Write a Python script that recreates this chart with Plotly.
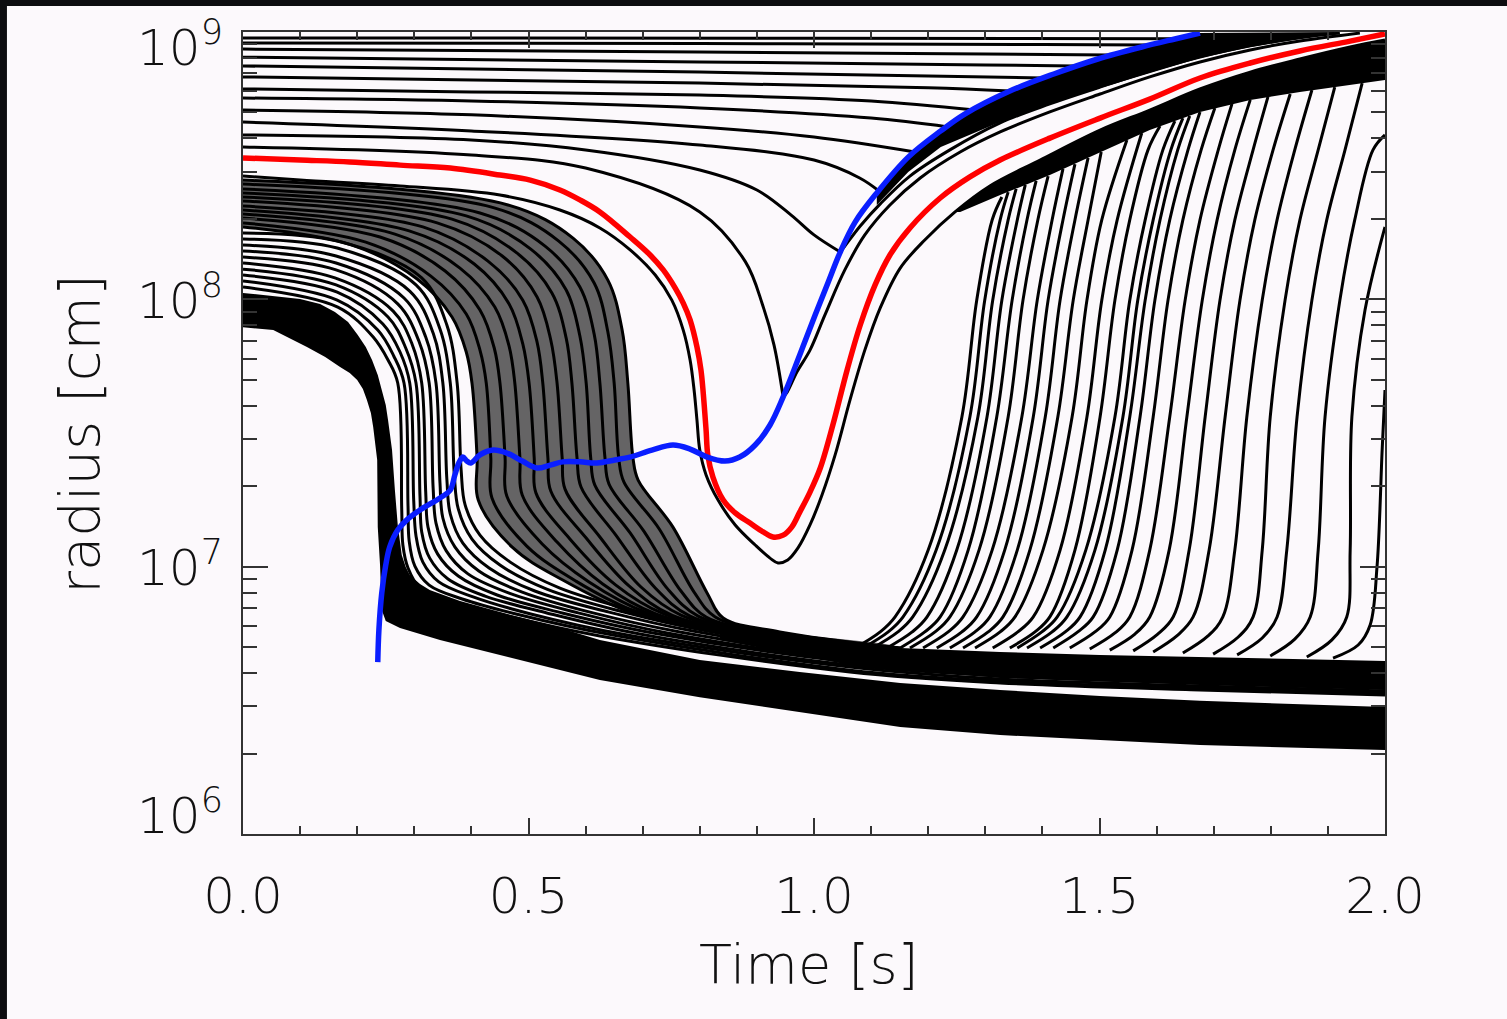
import numpy as np
import plotly.graph_objects as go

# ------------------------------------------------------------------
# Values: time [s], log10(radius / cm)
# ------------------------------------------------------------------
BLUE_T = [0.236,0.238,0.243,0.250,0.257,0.271,0.287,0.310,0.345,0.363,0.371,0.378,0.385,0.392,0.399,0.415,0.438,0.462,0.489,0.515,
          0.538,0.560,0.590,0.620,0.651,0.678,0.716,0.753,0.783,0.813,0.844,0.870,0.897,0.923,0.946,0.975,1.002,1.025,1.046,1.072,
          1.110,1.165,1.222,1.264,1.343,1.420,1.497,1.574,1.632,1.676]
BLUE_LOGR = [6.643,6.763,6.901,7.006,7.074,7.137,7.175,7.212,7.257,7.287,7.343,7.388,7.410,7.395,7.388,7.418,7.436,7.425,7.395,7.369,
             7.380,7.392,7.392,7.388,7.399,7.410,7.436,7.455,7.440,7.410,7.395,7.410,7.455,7.530,7.635,7.792,7.941,8.065,8.177,8.289,
             8.398,8.532,8.630,8.693,8.779,8.843,8.899,8.944,8.974,8.996]

RED_T = [0,0.100,0.187,0.275,0.363,0.450,0.503,0.555,0.590,0.625,0.678,0.713,0.736,0.757,0.771,0.783,0.795,0.802,0.806,0.811,
         0.814,0.823,0.841,0.862,0.888,0.911,0.928,0.946,0.961,0.975,0.993,1.011,1.033,1.058,1.081,1.107,1.133,1.168,1.221,1.273,
         1.326,1.413,1.501,1.588,1.676,1.764,1.851,1.939,2.0]
RED_LOGR = [8.529,8.521,8.514,8.502,8.491,8.465,8.446,8.409,8.372,8.327,8.233,8.166,8.110,8.042,7.986,7.923,7.822,7.736,7.650,7.511,
            7.418,7.335,7.249,7.201,7.163,7.130,7.111,7.118,7.148,7.204,7.279,7.369,7.530,7.736,7.904,8.054,8.166,8.267,8.379,8.458,
            8.521,8.603,8.678,8.749,8.828,8.884,8.929,8.966,8.993]

# black shell running next to the red one
COMP_T = [0,0.100,0.275,0.450,0.555,0.625,0.678,0.722,0.751,0.771,0.783,0.790,0.795,0.800,0.811,0.832,0.862,0.897,0.923,0.937,
          0.954,0.972,0.993,1.014,1.037,1.063,1.089,1.116,1.151,1.194,1.247,1.308,1.396,1.501,1.588,1.676,1.764,1.851,1.939,2.0]
COMP_LOGR = [8.461,8.446,8.424,8.390,8.334,8.267,8.185,8.091,7.997,7.885,7.773,7.661,7.549,7.436,7.343,7.249,7.156,7.081,7.032,7.014,
             7.025,7.070,7.156,7.268,7.418,7.623,7.810,7.968,8.117,8.222,8.327,8.424,8.521,8.633,8.708,8.787,8.850,8.899,8.944,8.970]

# outer shells before they meet the shock
OUTER_T = [[0,0.4,0.6,0.8,0.88,0.91,0.93,0.946],
           [0,0.4,0.6,0.8,0.9,0.96,1.0,1.046],
           [0,0.4,0.8,1.0,1.08,1.114],
           [0,0.4,0.8,1.0,1.177],
           [0,0.4,0.8,1.1,1.235],
           [0,0.4,0.8,1.1,1.282],
           [0,0.8,1.2,1.343],
           [0,0.8,1.2,1.401],
           [0,0.8,1.3,1.457],
           [0,0.8,1.3,1.518],
           [0,0.8,1.4,1.588],
           [0,1.0,1.641]]
OUTER_LOGR = [[8.570,8.540,8.491,8.327,8.140,7.979,7.829,7.635],
              [8.615,8.596,8.559,8.484,8.409,8.315,8.241,8.177],
              [8.663,8.630,8.577,8.521,8.454,8.405],
              [8.708,8.690,8.645,8.607,8.551],
              [8.753,8.742,8.716,8.678,8.645],
              [8.787,8.776,8.764,8.742,8.708],
              [8.832,8.809,8.791,8.779],
              [8.873,8.850,8.835,8.828],
              [8.906,8.888,8.877,8.873],
              [8.936,8.925,8.918,8.914],
              [8.959,8.957,8.953,8.951],
              [8.978,8.977,8.975]]

# the two lowest outer shells after the shock passes
POST1_T = [0.946,0.953,0.970,0.993,1.019,1.054,1.089,1.133,1.186,1.256,1.326,1.413,1.501,1.588,1.676,1.764,1.851,1.956]
POST1_LOGR = [7.635,7.653,7.728,7.810,7.941,8.110,8.241,8.353,8.454,8.551,8.626,8.701,8.768,8.832,8.888,8.933,8.966,8.996]
POST2_T = [1.046,1.054,1.081,1.116,1.168,1.238,1.326,1.413,1.501,1.588,1.676,1.764,1.851,1.921]
POST2_LOGR = [8.177,8.199,8.274,8.357,8.461,8.559,8.660,8.731,8.794,8.854,8.906,8.948,8.978,8.996]
# lower edge of the dense post-shock band hugging the shock
POSTBAND_T = [1.110,1.165,1.222,1.326,1.420,1.501,1.588,1.676,1.764,1.851,1.921]
POSTBAND_LOGR = [8.353,8.476,8.570,8.663,8.738,8.791,8.847,8.903,8.944,8.974,9.0]

# collapsing shells, outer dense group
C3_T = [[0,0.464,0.578,0.639,0.664,0.674,0.683,0.692,0.753,0.813,0.841,0.940,1.151],
        [0,0.440,0.553,0.615,0.639,0.650,0.658,0.667,0.729,0.790,0.827,0.932,1.151],
        [0,0.415,0.529,0.590,0.615,0.625,0.634,0.641,0.702,0.767,0.811,0.921,1.151],
        [0,0.391,0.504,0.566,0.590,0.601,0.609,0.616,0.678,0.744,0.797,0.912,1.151],
        [0,0.366,0.480,0.541,0.566,0.576,0.585,0.592,0.653,0.722,0.783,0.904,1.151],
        [0,0.340,0.454,0.515,0.539,0.550,0.559,0.564,0.625,0.697,0.767,0.893,1.151],
        [0,0.315,0.429,0.490,0.515,0.525,0.534,0.539,0.601,0.676,0.751,0.883,1.151],
        [0,0.291,0.405,0.466,0.490,0.501,0.510,0.513,0.574,0.653,0.737,0.874,1.151],
        [0,0.266,0.380,0.441,0.466,0.476,0.485,0.489,0.550,0.630,0.723,0.865,1.151],
        [0,0.240,0.354,0.415,0.440,0.450,0.459,0.462,0.524,0.606,0.708,0.855,1.151],
        [0,0.215,0.329,0.391,0.415,0.426,0.434,0.436,0.497,0.583,0.694,0.844,1.151],
        [0,0.191,0.305,0.366,0.391,0.401,0.410,0.412,0.473,0.560,0.678,0.835,1.151]]
C3_LOGR = [[8.446,8.353,8.229,8.072,7.885,7.687,7.406,7.324,7.148,6.901,6.808,6.756,6.696],
           [8.431,8.342,8.218,8.061,7.878,7.687,7.406,7.317,7.141,6.905,6.812,6.756,6.695],
           [8.413,8.323,8.199,8.046,7.870,7.687,7.406,7.309,7.133,6.909,6.812,6.756,6.694],
           [8.398,8.312,8.188,8.035,7.863,7.687,7.406,7.306,7.126,6.916,6.815,6.756,6.693],
           [8.383,8.300,8.173,8.024,7.855,7.687,7.406,7.298,7.118,6.920,6.815,6.756,6.692],
           [8.368,8.286,8.162,8.009,7.848,7.687,7.406,7.290,7.111,6.924,6.819,6.756,6.691],
           [8.349,8.271,8.143,7.997,7.840,7.687,7.406,7.283,7.107,6.928,6.819,6.756,6.690],
           [8.334,8.256,8.132,7.983,7.833,7.687,7.406,7.276,7.100,6.931,6.823,6.756,6.689],
           [8.319,8.244,8.117,7.971,7.825,7.687,7.406,7.268,7.092,6.935,6.823,6.756,6.688],
           [8.304,8.233,8.106,7.960,7.818,7.687,7.406,7.264,7.085,6.943,6.827,6.756,6.687],
           [8.286,8.214,8.087,7.945,7.810,7.687,7.406,7.257,7.077,6.946,6.827,6.756,6.686],
           [8.271,8.203,8.076,7.934,7.803,7.687,7.406,7.249,7.070,6.950,6.830,6.756,6.685]]

# collapsing shells, middle (separated) group
C2_T = [[0,0.165,0.313,0.357,0.375,0.382,0.389,0.415,0.468,0.555,0.695,0.835,1.063,1.326,1.676,2.0],
        [0,0.165,0.303,0.345,0.363,0.370,0.377,0.401,0.450,0.532,0.667,0.813,1.063,1.326,1.676,2.0],
        [0,0.163,0.292,0.333,0.350,0.357,0.363,0.385,0.431,0.511,0.641,0.788,1.063,1.326,1.676,2.0],
        [0,0.163,0.282,0.320,0.338,0.345,0.350,0.371,0.413,0.489,0.613,0.765,1.063,1.326,1.676,2.0],
        [0,0.163,0.271,0.308,0.326,0.333,0.338,0.356,0.394,0.466,0.587,0.743,1.063,1.326,1.676,2.0],
        [0,0.161,0.263,0.296,0.313,0.320,0.324,0.341,0.377,0.445,0.559,0.718,1.063,1.326,1.676,2.0],
        [0,0.163,0.254,0.285,0.303,0.310,0.313,0.327,0.359,0.424,0.532,0.695,1.063,1.326,1.676,2.0],
        [0,0.165,0.245,0.275,0.292,0.299,0.303,0.315,0.343,0.403,0.504,0.673,1.063,1.326,1.676,2.0],
        [0,0.165,0.236,0.264,0.282,0.289,0.291,0.301,0.326,0.384,0.478,0.648,1.063,1.326,1.676,2.0],
        [0,0.166,0.228,0.254,0.271,0.278,0.280,0.289,0.310,0.363,0.450,0.625,1.063,1.326,1.676,2.0]]
C2_LOGR = [[8.248,8.218,8.080,7.904,7.687,7.362,7.231,7.118,7.017,6.920,6.830,6.763,6.688,6.640,6.613,6.595],
           [8.226,8.192,8.054,7.889,7.687,7.347,7.216,7.103,7.006,6.916,6.830,6.759,6.681,6.632,6.606,6.587],
           [8.203,8.162,8.031,7.874,7.687,7.328,7.197,7.088,6.995,6.909,6.830,6.759,6.670,6.625,6.598,6.580],
           [8.181,8.136,8.005,7.859,7.687,7.313,7.182,7.074,6.984,6.905,6.827,6.756,6.662,6.613,6.587,6.569],
           [8.158,8.110,7.983,7.844,7.687,7.294,7.163,7.059,6.973,6.901,6.827,6.752,6.651,6.606,6.580,6.561],
           [8.136,8.080,7.956,7.833,7.687,7.279,7.148,7.047,6.965,6.894,6.827,6.752,6.643,6.598,6.572,6.554],
           [8.113,8.054,7.934,7.818,7.687,7.261,7.130,7.032,6.954,6.890,6.827,6.748,6.632,6.591,6.565,6.546],
           [8.091,8.027,7.908,7.803,7.687,7.246,7.115,7.017,6.943,6.887,6.823,6.744,6.625,6.580,6.554,6.535],
           [8.069,7.997,7.885,7.788,7.687,7.227,7.096,7.002,6.931,6.879,6.823,6.744,6.613,6.572,6.546,6.527],
           [8.046,7.971,7.859,7.773,7.687,7.212,7.081,6.995,6.920,6.875,6.823,6.741,6.606,6.565,6.539,6.520]]

# innermost dense group (collapse wall and proto-neutron-star band): outer and inner edge
CORE_TOP_T = [0,0.100,0.135,0.161,0.184,0.201,0.215,0.226,0.236,0.243,0.250,0.254,0.261,0.266,0.271,0.278,0.285,0.292,0.310,0.327,
              0.380,0.450,0.538,0.625,0.800,0.975,1.151,1.326,1.501,1.676,2.0]
CORE_TOP_LOGR = [8.024,8.001,7.983,7.953,7.915,7.867,7.822,7.773,7.717,7.661,7.605,7.549,7.436,7.287,7.156,7.044,6.999,6.969,6.935,6.913,
                 6.872,6.830,6.782,6.726,6.651,6.606,6.565,6.539,6.516,6.498,6.475]
CORE_BOT_T = [0,0.053,0.112,0.144,0.170,0.187,0.200,0.210,0.217,0.224,0.228,0.235,0.236,0.240,0.243,0.250,0.275,0.345,0.464,0.625,
              0.800,0.975,1.151,1.326,1.501,1.676,2.0]
CORE_BOT_LOGR = [7.896,7.885,7.822,7.784,7.747,7.724,7.698,7.665,7.623,7.575,7.522,7.399,7.148,7.006,6.838,6.797,6.771,6.726,6.662,6.576,
                 6.512,6.456,6.400,6.370,6.352,6.333,6.314]

# settled band of accreted shells (upper and lower edge)
MID_TOP_T = [0.835,0.975,1.151,1.326,1.501,1.676,1.851,2.0]
MID_TOP_LOGR = [6.771,6.741,6.696,6.681,6.670,6.662,6.655,6.647]
MID_BOT_T = [2.0,1.676,1.326,1.063,0.835]
MID_BOT_LOGR = [6.539,6.557,6.584,6.632,6.726]

# lower edge of the ejecta band below the red shell
EJ_LOW_T = [2.0,1.851,1.764,1.676,1.588,1.501,1.413,1.326,1.256]
EJ_LOW_LOGR = [8.820,8.776,8.746,8.701,8.633,8.551,8.465,8.390,8.327]

# re-expanding shells on the right
RISER_T = [[1.072,1.116,1.142,1.200,1.259,1.285,1.312,1.329],
           [1.086,1.130,1.156,1.214,1.273,1.299,1.326,1.340],
           [1.103,1.147,1.173,1.229,1.287,1.313,1.340,1.354],
           [1.128,1.172,1.198,1.250,1.303,1.329,1.356,1.370],
           [1.151,1.194,1.221,1.270,1.320,1.347,1.373,1.389],
           [1.168,1.212,1.238,1.289,1.340,1.366,1.392,1.410],
           [1.191,1.235,1.261,1.312,1.364,1.391,1.417,1.436],
           [1.215,1.259,1.285,1.334,1.384,1.410,1.436,1.457],
           [1.238,1.282,1.308,1.356,1.405,1.431,1.457,1.480],
           [1.261,1.305,1.331,1.378,1.427,1.454,1.480,1.503],
           [1.282,1.326,1.352,1.401,1.452,1.478,1.504,1.548],
           [1.313,1.357,1.384,1.431,1.478,1.504,1.531,1.574],
           [1.343,1.387,1.413,1.457,1.501,1.527,1.553,1.585,1.606],
           [1.356,1.399,1.426,1.476,1.527,1.553,1.580,1.611,1.632],
           [1.373,1.417,1.443,1.492,1.541,1.567,1.594,1.625,1.646],
           [1.396,1.440,1.466,1.510,1.553,1.580,1.606,1.637,1.658],
           [1.419,1.462,1.489,1.531,1.571,1.597,1.623,1.655,1.676],
           [1.448,1.492,1.518,1.557,1.594,1.620,1.646,1.678,1.702],
           [1.483,1.527,1.553,1.588,1.623,1.650,1.676,1.708,1.732],
           [1.518,1.562,1.588,1.622,1.653,1.680,1.706,1.737,1.764],
           [1.559,1.602,1.629,1.657,1.685,1.711,1.737,1.769,1.795],
           [1.594,1.637,1.664,1.692,1.720,1.746,1.772,1.804,1.834],
           [1.646,1.690,1.716,1.737,1.758,1.785,1.811,1.842,1.872],
           [1.699,1.743,1.769,1.785,1.799,1.825,1.851,1.883,1.912],
           [1.741,1.785,1.811,1.828,1.846,1.872,1.898,1.930,1.960],
           [1.799,1.842,1.869,1.883,1.895,1.921,1.947,1.979,2.0],
           [1.863,1.907,1.933,1.939,1.942,1.965,2.0],
           [1.909,1.953,1.974,1.986,1.995,2.0]]
RISER_LOGR = [[6.696,6.756,6.812,7.062,7.560,7.997,8.297,8.383],
              [6.696,6.756,6.812,7.062,7.560,7.997,8.297,8.401],
              [6.696,6.756,6.812,7.062,7.560,7.997,8.297,8.413],
              [6.696,6.756,6.812,7.062,7.560,7.997,8.297,8.428],
              [6.696,6.756,6.812,7.062,7.560,7.997,8.297,8.443],
              [6.696,6.756,6.812,7.062,7.560,7.997,8.297,8.461],
              [6.696,6.756,6.812,7.062,7.560,7.997,8.297,8.488],
              [6.696,6.756,6.812,7.062,7.560,7.997,8.297,8.506],
              [6.696,6.756,6.812,7.062,7.560,7.997,8.297,8.529],
              [6.696,6.756,6.812,7.062,7.560,7.997,8.297,8.551],
              [6.696,6.756,6.812,7.062,7.560,7.997,8.297,8.596],
              [6.696,6.756,6.812,7.062,7.560,7.997,8.297,8.622],
              [6.696,6.756,6.812,7.062,7.560,7.997,8.297,8.559,8.648],
              [6.696,6.756,6.812,7.062,7.560,7.997,8.297,8.559,8.667],
              [6.696,6.756,6.812,7.062,7.560,7.997,8.297,8.559,8.678],
              [6.696,6.756,6.812,7.062,7.560,7.997,8.297,8.559,8.686],
              [6.696,6.756,6.812,7.062,7.560,7.997,8.297,8.559,8.701],
              [6.696,6.756,6.812,7.062,7.560,7.997,8.297,8.559,8.716],
              [6.692,6.752,6.812,7.062,7.560,7.997,8.297,8.559,8.731],
              [6.688,6.748,6.812,7.062,7.560,7.997,8.297,8.559,8.746],
              [6.685,6.748,6.812,7.062,7.560,7.997,8.297,8.559,8.757],
              [6.681,6.744,6.812,7.062,7.560,7.997,8.297,8.559,8.768],
              [6.677,6.741,6.812,7.062,7.560,7.997,8.297,8.559,8.783],
              [6.673,6.737,6.812,7.062,7.560,7.997,8.297,8.559,8.794],
              [6.670,6.733,6.812,7.062,7.560,7.997,8.297,8.559,8.809],
              [6.666,6.729,6.812,7.062,7.560,7.997,8.297,8.559,8.615],
              [6.662,6.726,6.812,7.062,7.560,7.960,8.271],
              [6.658,6.707,6.782,6.999,7.436,7.661]]

X_TICKS = [0.0, 0.5, 1.0, 1.5, 2.0]
X_TICK_TEXT = ["0.0", "0.5", "1.0", "1.5", "2.0"]
X_MINOR = [0.1,0.2,0.3,0.4,0.6,0.7,0.8,0.9,1.1,1.2,1.3,1.4,1.6,1.7,1.8,1.9]
Y_EXPONENTS = [6, 7, 8, 9]
Y_MINOR_DIGITS = [2, 3, 4, 5, 6, 7, 8, 9]


def rad(logr):
    return np.power(10.0, np.asarray(logr, dtype=float))


BLACK = "#000000"
LW = 3.0
FONT = "DejaVu Sans"
PANEL = "#fcf9fc"

fig = go.Figure()


def add_fill(t, logr, color, shape="linear"):
    fig.add_trace(go.Scatter(x=t, y=rad(logr), mode="lines", fill="toself",
                             fillcolor=color, line=dict(width=0, shape=shape),
                             hoverinfo="skip", showlegend=False))


def add_line(t, logr, color=BLACK, width=LW):
    fig.add_trace(go.Scatter(x=t, y=rad(logr), mode="lines",
                             line=dict(color=color, width=width, shape="spline", smoothing=1.0),
                             hoverinfo="skip", showlegend=False))


# dark underlay for the dense outer collapsing group
add_fill(C3_T[0] + C3_T[-1][::-1], C3_LOGR[0] + C3_LOGR[-1][::-1], "rgba(0,0,0,0.6)", "spline")
# solid dense bands
add_fill(CORE_TOP_T + CORE_BOT_T[::-1], CORE_TOP_LOGR + CORE_BOT_LOGR[::-1], BLACK)
add_fill(MID_TOP_T + MID_BOT_T, MID_TOP_LOGR + MID_BOT_LOGR, BLACK)
add_fill(COMP_T[30:] + EJ_LOW_T, COMP_LOGR[30:] + EJ_LOW_LOGR, BLACK)
add_fill(BLUE_T[40:] + POSTBAND_T[::-1], BLUE_LOGR[40:] + POSTBAND_LOGR[::-1], BLACK)

for t, lr in zip(OUTER_T, OUTER_LOGR):
    add_line(t, lr)
add_line(POST1_T, POST1_LOGR)
add_line(POST2_T, POST2_LOGR)
for t, lr in zip(C3_T, C3_LOGR):
    add_line(t, lr)
for t, lr in zip(C2_T, C2_LOGR):
    add_line(t, lr)
for t, lr in zip(RISER_T, RISER_LOGR):
    add_line(t, lr)
add_line(COMP_T, COMP_LOGR)
add_line(RED_T, RED_LOGR, "#ff0000", 5.5)
add_line(BLUE_T, BLUE_LOGR, "#0a1eff", 5.5)

AX = "#333333"
TICKFONT = dict(family=FONT, size=50, color="#111111", weight=200)
fig.update_xaxes(range=[0, 2], showgrid=False, zeroline=False,
                 showline=True, linecolor=AX, linewidth=1.6, mirror="ticks",
                 ticks="inside", ticklen=16, tickwidth=1.5, tickcolor=AX,
                 tickvals=X_TICKS, ticktext=X_TICK_TEXT, ticklabelstandoff=17,
                 tickfont=TICKFONT,
                 minor=dict(tickvals=X_MINOR, ticks="inside", ticklen=8, tickwidth=1.5, tickcolor=AX))
fig.update_yaxes(type="log", range=[6, 9], showgrid=False, zeroline=False,
                 showline=True, linecolor=AX, linewidth=1.6, mirror="ticks",
                 ticks="inside", ticklen=25, tickwidth=1.5, tickcolor=AX,
                 tickvals=[10.0 ** e for e in Y_EXPONENTS], showticklabels=False,
                 minor=dict(tickvals=[d * 10.0 ** e for e in Y_EXPONENTS[:-1] for d in Y_MINOR_DIGITS],
                            ticks="inside", ticklen=14, tickwidth=1.5, tickcolor=AX))

annotations = []
label_shift = {6: 22, 7: 2, 8: 2, 9: -12}
for e in Y_EXPONENTS:
    annotations.append(dict(x=0, xref="paper", y=e, yref="y", xanchor="right", yanchor="middle",
                            xshift=-18, yshift=label_shift[e], showarrow=False,
                            text=f"10<sup>{e}</sup>", font=TICKFONT))
annotations.append(dict(x=0.4956, xref="paper", y=-0.1633, yref="paper", xanchor="center", yanchor="middle",
                        showarrow=False, text="Time [s]",
                        font=dict(family=FONT, size=54, color="#111111", weight=200)))
annotations.append(dict(x=-0.1427, xref="paper", y=0.4988, yref="paper", xanchor="center", yanchor="middle",
                        showarrow=False, text="radius [cm]", textangle=-90,
                        font=dict(family=FONT, size=56, color="#111111", weight=200)))

fig.update_layout(width=1507, height=1019, margin=dict(l=243, r=122, t=32, b=185),
                  paper_bgcolor="#0d0d10", plot_bgcolor=PANEL, showlegend=False,
                  annotations=annotations,
                  shapes=[dict(type="rect", xref="paper", yref="paper", x0=-0.2067, x1=1.11, y0=-0.235, y1=1.0324,
                               fillcolor=PANEL, line=dict(width=0), layer="below")])

fig.write_html("out.html")
